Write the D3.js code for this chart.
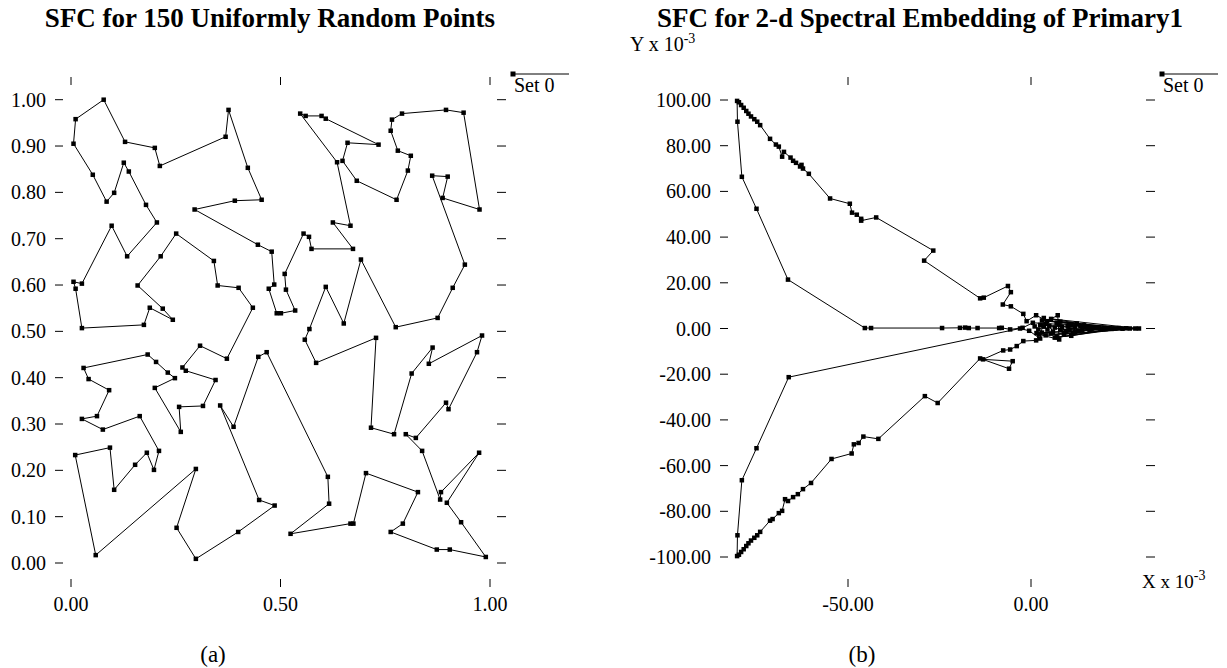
<!DOCTYPE html>
<html>
<head>
<meta charset="utf-8">
<script src="https://cdn.jsdelivr.net/npm/d3@7"></script>
<style>
  body { margin: 0; background: #fff; }
  text { font-family: "Liberation Serif", "Times New Roman", serif; fill: #000; }
</style>
</head>
<body>
<svg id="chart"></svg>
<script>
// (a) 150 uniformly random points, in curve order
var uniX = [0.434,0.372,0.308,0.266,0.274,0.345,0.315,0.258,0.262,0.200,0.248,0.231,0.203,0.183,0.030,0.042,0.091,0.062,0.026,0.076,
  0.164,0.210,0.198,0.181,0.153,0.103,0.093,0.010,0.059,0.298,0.252,0.298,0.399,0.486,0.449,0.356,0.388,0.447,0.467,0.613,
  0.616,0.524,0.667,0.674,0.704,0.828,0.792,0.763,0.873,0.904,0.990,0.931,0.897,0.974,0.883,0.881,0.838,0.799,0.823,0.895,
  0.901,0.969,0.981,0.854,0.863,0.813,0.771,0.716,0.728,0.585,0.558,0.569,0.608,0.651,0.692,0.775,0.875,0.911,0.940,0.862,
  0.899,0.887,0.975,0.937,0.895,0.790,0.766,0.763,0.780,0.811,0.804,0.777,0.682,0.648,0.660,0.734,0.608,0.598,0.560,0.547,
  0.635,0.667,0.625,0.673,0.574,0.568,0.555,0.510,0.513,0.535,0.501,0.491,0.472,0.485,0.479,0.446,0.295,0.391,0.455,0.422,
  0.376,0.369,0.212,0.200,0.129,0.078,0.011,0.006,0.052,0.085,0.103,0.126,0.138,0.179,0.205,0.134,0.097,0.026,0.006,0.011,
  0.026,0.174,0.188,0.243,0.219,0.159,0.214,0.251,0.341,0.350,0.400];
var uniY = [0.551,0.441,0.469,0.422,0.415,0.395,0.339,0.337,0.283,0.378,0.399,0.411,0.434,0.450,0.421,0.397,0.373,0.317,0.311,0.288,
  0.317,0.242,0.201,0.238,0.212,0.158,0.249,0.233,0.017,0.203,0.076,0.009,0.067,0.124,0.136,0.340,0.294,0.445,0.455,0.186,
  0.128,0.063,0.085,0.085,0.194,0.153,0.085,0.067,0.029,0.029,0.013,0.088,0.130,0.238,0.153,0.137,0.242,0.278,0.270,0.346,
  0.332,0.455,0.491,0.430,0.465,0.409,0.278,0.292,0.486,0.432,0.482,0.505,0.596,0.517,0.655,0.509,0.529,0.594,0.644,0.836,
  0.834,0.788,0.763,0.972,0.978,0.970,0.957,0.933,0.890,0.879,0.847,0.784,0.825,0.868,0.907,0.903,0.959,0.965,0.965,0.970,
  0.865,0.728,0.735,0.678,0.678,0.704,0.711,0.624,0.590,0.545,0.539,0.539,0.592,0.601,0.672,0.687,0.763,0.782,0.784,0.853,
  0.978,0.920,0.857,0.896,0.909,1.000,0.958,0.905,0.838,0.780,0.799,0.864,0.845,0.773,0.735,0.662,0.728,0.603,0.607,0.592,
  0.507,0.514,0.551,0.525,0.549,0.599,0.662,0.711,0.652,0.599,0.594];

// (b) spectral embedding of Primary1 (units of 1e-3), in curve order
var specX = [7.3,4.4,1.4,-1.2,-2.1,-5.5,-7.7,-5.5,-6.3,-12.9,-13.9,-29.2,-26.7,-42.3,-46.4,-46.4,-47.6,-48.9,-49.5,-54.9,
  -60.7,-62.3,-62.7,-63.1,-64.2,-65.0,-65.7,-67.5,-68.0,-68.9,-69.7,-71.3,
  -74.0,-74.8,-75.6,-76.5,-77.2,-77.8,-78.5,-79.2,-79.8,-80.3,
  -80.2,-79.0,-75.0,-66.4,-45.4,-43.7,
  -24.3,-19.4,-18.0,-17.0,-14.6,-8.7,-8.0,-5.7,-2.3,
  0.5,24.0,1.5,27.0,3.0,20.0,4.0,29.5,5.5,22.0,6.5,26.0,8.0,18.0,9.0,28.5,10.5,16.0,12.0,21.0,13.5,
  14.0,14.5,12.5,11.5,10.0,9.5,8.5,7.5,6.0,5.0,4.5,3.5,2.0,1.0,
  3.0,5.5,7.0,9.0,11.0,13.0,15.5,8.0,6.5,4.0,2.5,12.0,10.5,16.5,18.5,20.5,
  25.0,15.0,19.0,17.0,23.0,11.0,7.0,3.5,2.5,-0.5,-3.0,
  -66.2,-75.0,-79.0,-80.2,-80.3,
  -79.8,-79.2,-78.5,-77.8,-77.2,-76.5,-75.6,-74.8,-74.0,
  -71.3,-70.6,-68.9,-68.0,-67.2,-66.4,-65.0,-63.7,-62.3,-60.1,-54.5,-49.0,-48.4,-47.1,-45.8,-41.7,-29.0,-25.5,-13.9,-6.0,
  -5.0,-13.1,-7.6,-5.7,-3.9,-2.1,1.4,2.2,7.7];
var specY = [5.8,3.2,5.8,3.2,6.4,9.7,10.5,15.9,18.6,13.5,13.2,29.7,34.1,48.6,47.2,48.0,49.8,50.7,54.6,56.9,
  67.7,70.0,71.6,70.9,72.5,73.4,74.8,77.3,75.2,79.6,80.5,83.0,
  89.0,90.5,91.6,92.8,94.0,95.2,96.6,97.8,99.0,99.6,
  90.5,66.4,52.4,21.4,0.2,0.2,
  0.2,0.3,0.4,0.2,0.2,0.2,0.3,-0.4,0.3,
  2.5,0.2,-2.0,0.0,3.5,0.3,-3.0,0.0,4.2,-0.2,-4.0,0.1,3.0,0.5,-2.5,0.0,2.0,-0.6,-1.5,0.2,1.0,
  -0.8,1.4,2.2,-2.0,1.0,-1.2,0.6,1.8,-1.5,1.2,-0.5,0.8,-0.4,0.9,
  -1.8,-2.2,2.6,-1.8,1.6,-1.0,0.6,-0.6,0.4,2.0,1.6,0.5,-0.4,-0.3,0.2,-0.2,
  -0.1,0.8,-0.3,0.4,0.0,-3.2,-3.8,4.6,-4.4,-1.0,0.0,
  -21.3,-52.4,-66.4,-90.5,-99.6,
  -99.0,-97.8,-96.6,-95.2,-94.0,-92.8,-91.6,-90.5,-89.0,
  -84.1,-83.4,-80.8,-79.8,-74.7,-75.5,-73.8,-72.5,-70.3,-67.6,-57.1,-54.7,-50.7,-50.1,-47.3,-48.3,-29.6,-32.6,-13.1,-17.6,
  -14.3,-13.5,-9.6,-9.2,-7.7,-5.5,-5.2,-2.6,-4.8];

var uniXTicks = [0, 0.5, 1];
var uniYTicks = [0, 0.1, 0.2, 0.3, 0.4, 0.5, 0.6, 0.7, 0.8, 0.9, 1];
var specXTicks = [-50, 0];
var specYTicks = [-100, -80, -60, -40, -20, 0, 20, 40, 60, 80, 100];

var W = 1227, H = 668;
var svg = d3.select("#chart").attr("width", W).attr("height", H);

function drawPanel(p) {
  var g = svg.append("g");
  var x = d3.scaleLinear().domain(p.xDomain).range(p.xRange);
  var y = d3.scaleLinear().domain(p.yDomain).range(p.yRange);

  // title
  g.append("text")
    .attr("x", p.titleX).attr("y", 27)
    .attr("text-anchor", "middle")
    .style("font-size", "27px").style("font-weight", "bold")
    .text(p.title);

  // ticks on all four sides, xgraph style (no frame)
  p.xTicks.forEach(function(t) {
    g.append("line").attr("x1", x(t)).attr("x2", x(t)).attr("y1", 77).attr("y2", 85)
      .attr("stroke", "#000").attr("stroke-width", 1);
    g.append("line").attr("x1", x(t)).attr("x2", x(t)).attr("y1", 579).attr("y2", 587)
      .attr("stroke", "#000").attr("stroke-width", 1);
    g.append("text").attr("x", x(t)).attr("y", 611)
      .attr("text-anchor", "middle").style("font-size", "20px")
      .text(t.toFixed(2));
  });
  p.yTicks.forEach(function(t) {
    g.append("line").attr("x1", p.leftTick[0]).attr("x2", p.leftTick[1]).attr("y1", y(t)).attr("y2", y(t))
      .attr("stroke", "#000").attr("stroke-width", 1);
    g.append("line").attr("x1", p.rightTick[0]).attr("x2", p.rightTick[1]).attr("y1", y(t)).attr("y2", y(t))
      .attr("stroke", "#000").attr("stroke-width", 1);
    g.append("text").attr("x", p.leftTick[0] - 9).attr("y", y(t) + 7)
      .attr("text-anchor", "end").style("font-size", "20px")
      .text(t.toFixed(2));
  });

  // curve
  var pts = p.xs.map(function(v, i) { return [v, p.ys[i]]; });
  var line = d3.line().x(function(d) { return x(d[0]); }).y(function(d) { return y(d[1]); })
    .curve(d3.curveLinearClosed);
  g.append("path").attr("d", line(pts))
    .attr("fill", "none").attr("stroke", "#000").attr("stroke-width", 1);
  var s = 4.5;
  g.selectAll("rect.pt").data(pts).enter().append("rect")
    .attr("class", "pt")
    .attr("x", function(d) { return x(d[0]) - s / 2; })
    .attr("y", function(d) { return y(d[1]) - s / 2; })
    .attr("width", s).attr("height", s)
    .attr("fill", "#000");

  // legend
  g.append("line").attr("x1", p.legendX).attr("x2", p.legendX + 56).attr("y1", 74).attr("y2", 74)
    .attr("stroke", "#000").attr("stroke-width", 1);
  g.append("rect").attr("x", p.legendX - 2.5).attr("y", 71.5).attr("width", 5).attr("height", 5).attr("fill", "#000");
  g.append("text").attr("x", p.legendX + 1).attr("y", 92).style("font-size", "20px").text("Set 0");

  // caption
  g.append("text").attr("x", p.captionX).attr("y", 662)
    .attr("text-anchor", "middle").style("font-size", "23px")
    .text(p.caption);
  return {x: x, y: y, g: g};
}

drawPanel({
  title: "SFC for 150 Uniformly Random Points", titleX: 270,
  xDomain: [0, 1], xRange: [71, 490],
  yDomain: [0, 1], yRange: [563, 99.7],
  xTicks: uniXTicks, yTicks: uniYTicks,
  leftTick: [55, 63], rightTick: [497, 506],
  xs: uniX, ys: uniY,
  legendX: 513, caption: "(a)", captionX: 213
});

drawPanel({
  title: "SFC for 2-d Spectral Embedding of Primary1", titleX: 920,
  xDomain: [-50, 0], xRange: [848, 1031],
  yDomain: [-100, 100], yRange: [557, 100],
  xTicks: specXTicks, yTicks: specYTicks,
  leftTick: [720, 728], rightTick: [1146, 1155],
  xs: specX, ys: specY,
  legendX: 1162, caption: "(b)", captionX: 862
});

// axis unit labels
var yl = svg.append("text").attr("x", 630).attr("y", 51).style("font-size", "20px");
yl.append("tspan").text("Y x 10");
yl.append("tspan").attr("dy", -8).style("font-size", "14px").text("-3");
var xl = svg.append("text").attr("x", 1142).attr("y", 588).style("font-size", "19px");
xl.append("tspan").text("X x 10");
xl.append("tspan").attr("dy", -8).style("font-size", "14px").text("-3");
</script>
</body>
</html>
